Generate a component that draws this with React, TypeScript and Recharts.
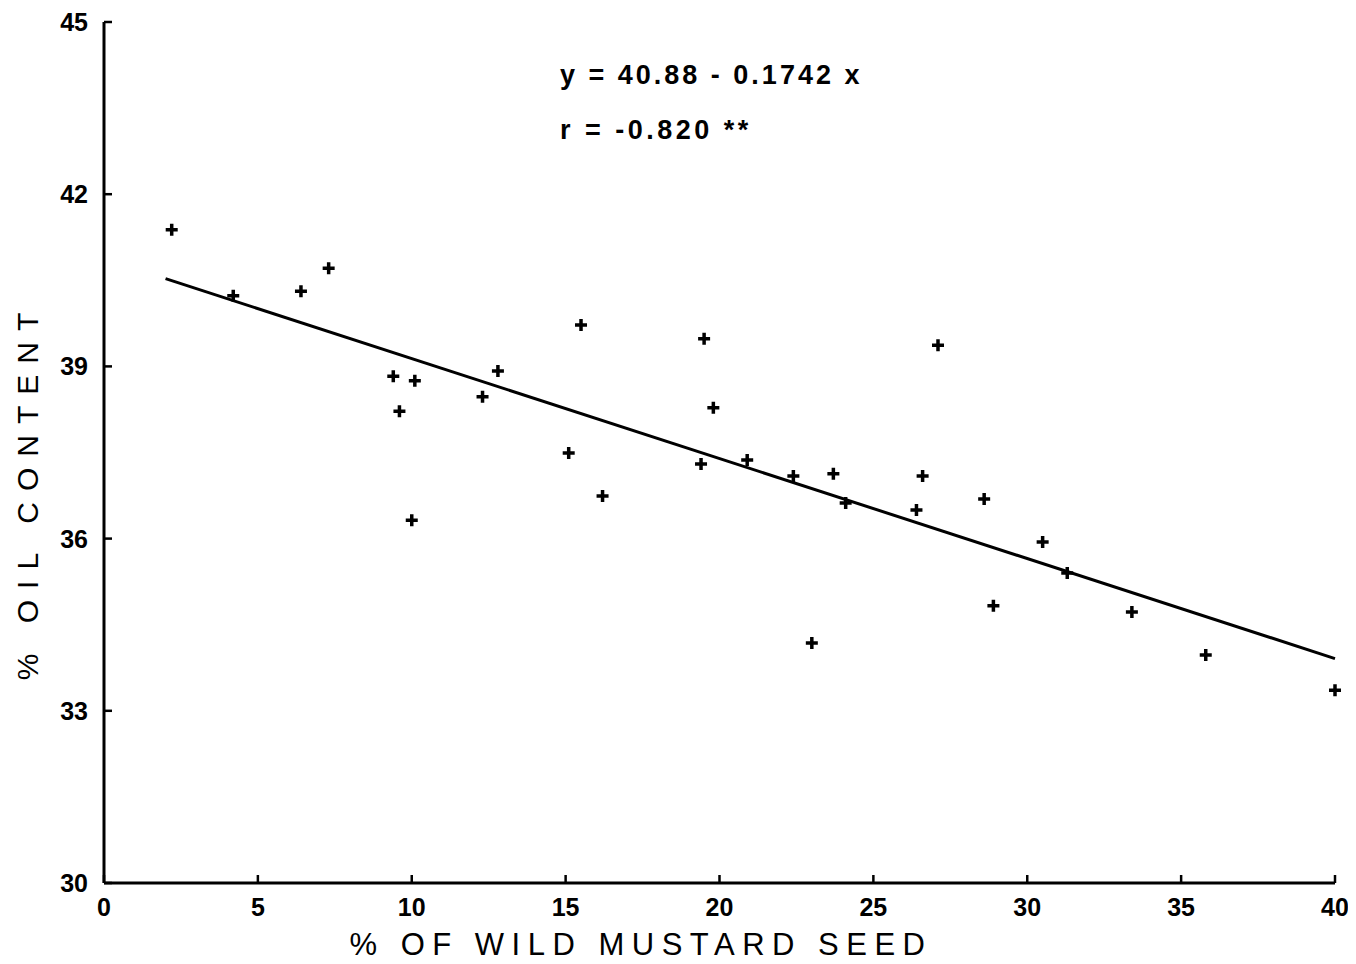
import { ComposedChart, Scatter, XAxis, YAxis } from 'recharts'

// % wild mustard seed vs % oil content
const mustardPct = [
  2.2, 4.2, 6.4, 7.3, 9.4, 9.6, 10.1, 10.0, 12.3, 12.8, 15.1, 15.5, 16.2, 19.5, 19.4, 19.8,
  20.9, 22.4, 23.0, 23.7, 24.1, 26.4, 26.6, 27.1, 28.6, 28.9, 30.5, 31.3, 33.4, 35.8, 40.0,
]
const oilPct = [
  41.38, 40.23, 40.31, 40.71, 38.83, 38.22, 38.75, 36.32, 38.47, 38.92, 37.49, 39.72, 36.74,
  39.48, 37.3, 38.28, 37.37, 37.09, 34.18, 37.13, 36.62, 36.5, 37.09, 39.37, 36.69, 34.83,
  35.94, 35.4, 34.72, 33.97, 33.36,
]
// ends of the fitted line as drawn
const fitX = [2.0, 40.0]
const fitY = [40.53, 33.91]

const xTicks = [0, 5, 10, 15, 20, 25, 30, 35, 40]
const yTicks = [30, 33, 36, 39, 42, 45]

const points = mustardPct.map((x, i) => ({ x, y: oilPct[i] }))
const fitLine = fitX.map((x, i) => ({ x, y: fitY[i] }))

const W = 1345
const H = 950
const TICK_GAP = 10
const FONT = '"Liberation Sans", Arial, sans-serif'

function Plus(props: any) {
  const { cx, cy } = props
  if (cx == null || cy == null) return <g />
  return (
    <path
      d={`M${cx - 6},${cy} L${cx + 6},${cy} M${cx},${cy - 6} L${cx},${cy + 6}`}
      stroke="#000"
      strokeWidth={3.5}
    />
  )
}

function XTick(props: any) {
  const { x, y, payload } = props
  const axisY = y - TICK_GAP
  return (
    <g>
      <line x1={x} y1={axisY} x2={x} y2={axisY - 8} stroke="#000" strokeWidth={2.5} />
      <text x={x} y={axisY + 24} textAnchor="middle" dominantBaseline="central"
        fontFamily={FONT} fontWeight="bold" fontSize={25} fill="#000">
        {payload.value}
      </text>
    </g>
  )
}

function YTick(props: any) {
  const { x, y, payload } = props
  const axisX = x + TICK_GAP
  return (
    <g>
      <line x1={axisX} y1={y} x2={axisX + 8} y2={y} stroke="#000" strokeWidth={2.5} />
      <text x={axisX - 16} y={y} textAnchor="end" dominantBaseline="central"
        fontFamily={FONT} fontWeight="bold" fontSize={25} fill="#000">
        {payload.value}
      </text>
    </g>
  )
}

export default function App() {
  return (
    <div style={{ position: 'relative', width: W, height: H }}>
      <ComposedChart width={W} height={H} margin={{ top: 14, right: 18, bottom: 0, left: 0 }}>
        <XAxis
          type="number"
          dataKey="x"
          domain={[0, 40]}
          ticks={xTicks}
          height={75}
          tickSize={0}
          tickMargin={TICK_GAP}
          tickLine={false}
          axisLine={{ stroke: '#000', strokeWidth: 3 }}
          tick={<XTick />}
        />
        <YAxis
          type="number"
          dataKey="y"
          domain={[30, 45]}
          ticks={yTicks}
          width={96}
          tickSize={0}
          tickMargin={TICK_GAP}
          tickLine={false}
          axisLine={{ stroke: '#000', strokeWidth: 3 }}
          tick={<YTick />}
        />
        <Scatter data={fitLine} line={{ stroke: '#000', strokeWidth: 3 }} shape={() => <g />} isAnimationActive={false} />
        <Scatter data={points} shape={<Plus />} isAnimationActive={false} />
      </ComposedChart>
      <svg width={W} height={956}
        style={{ position: 'absolute', left: 0, top: 0, pointerEvents: 'none', overflow: 'visible' }}>
        <text x={552} y={67} dominantBaseline="central" fontFamily={FONT} fontWeight="bold"
          fontSize={27} letterSpacing={3} fill="#000">
          y = 40.88 - 0.1742 x
        </text>
        <text x={552} y={122} dominantBaseline="central" fontFamily={FONT} fontWeight="bold"
          fontSize={27} letterSpacing={3.5} fill="#000">
          r = -0.820 **
        </text>
        <text x={633} y={936} textAnchor="middle" dominantBaseline="central" fontFamily={FONT}
          fontSize={31} letterSpacing={7.5} fill="#000">
          % OF WILD MUSTARD SEED
        </text>
        <text x={19} y={483} textAnchor="middle" dominantBaseline="central" fontFamily={FONT}
          fontSize={30} letterSpacing={11} fill="#000" transform="rotate(-90 19 483)">
          % OIL CONTENT
        </text>
      </svg>
    </div>
  )
}
